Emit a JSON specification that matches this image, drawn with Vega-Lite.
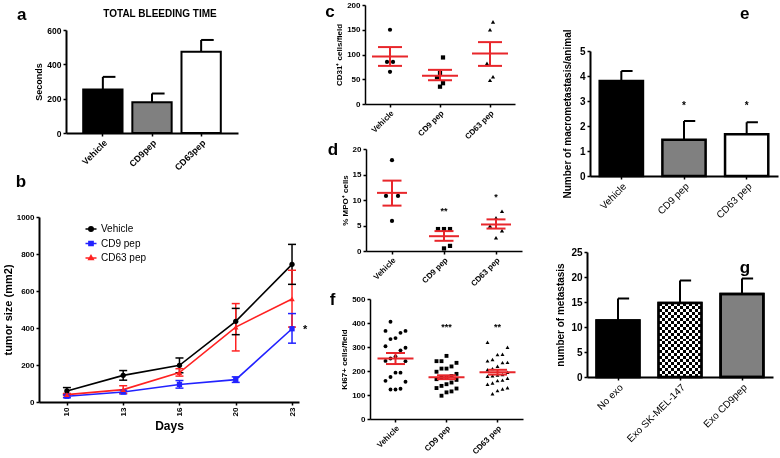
{
  "$schema": "https://vega.github.io/schema/vega-lite/v6.json",
  "width": 780,
  "height": 458,
  "autosize": {"type": "none"},
  "padding": 0,
  "background": "white",
  "config": {
    "view": {"stroke": null},
    "font": "Liberation Sans",
    "axis": {"grid": false, "domainColor": "black", "tickColor": "black", "labelColor": "black", "titleColor": "black", "labelFont": "Liberation Sans", "titleFont": "Liberation Sans", "labelFontWeight": "bold", "titleFontWeight": "bold", "labelFontSize": 8, "titleFontSize": 9, "domainWidth": 1.5, "tickWidth": 1.5, "tickSize": 3, "labelPadding": 2, "titlePadding": 3, "labelOverlap": false},
    "legend": {"labelFont": "Liberation Sans"},
    "text": {"font": "Liberation Sans", "color": "black"},
    "tick": {"opacity": 1}
  },
  "datasets": {
    "bleed": [
      {"grp": "Vehicle", "v": 253, "top": 327},
      {"grp": "CD9pep", "v": 179, "top": 230},
      {"grp": "CD63pep", "v": 473, "top": 542}
    ],
    "tumor": [
      {"day": "10", "grp": "Vehicle", "v": 60, "lo": 42, "hi": 78},
      {"day": "13", "grp": "Vehicle", "v": 144, "lo": 118, "hi": 170},
      {"day": "16", "grp": "Vehicle", "v": 198, "lo": 158, "hi": 238},
      {"day": "20", "grp": "Vehicle", "v": 436, "lo": 364, "hi": 506},
      {"day": "23", "grp": "Vehicle", "v": 744, "lo": 636, "hi": 852},
      {"day": "10", "grp": "CD9 pep", "v": 31, "lo": 23, "hi": 39},
      {"day": "13", "grp": "CD9 pep", "v": 54, "lo": 44, "hi": 64},
      {"day": "16", "grp": "CD9 pep", "v": 95, "lo": 75, "hi": 116},
      {"day": "20", "grp": "CD9 pep", "v": 121, "lo": 106, "hi": 136},
      {"day": "23", "grp": "CD9 pep", "v": 396, "lo": 318, "hi": 478},
      {"day": "10", "grp": "CD63 pep", "v": 40, "lo": 34, "hi": 46},
      {"day": "13", "grp": "CD63 pep", "v": 67, "lo": 48, "hi": 88},
      {"day": "16", "grp": "CD63 pep", "v": 159, "lo": 140, "hi": 180},
      {"day": "20", "grp": "CD63 pep", "v": 405, "lo": 276, "hi": 532},
      {"day": "23", "grp": "CD63 pep", "v": 557, "lo": 405, "hi": 712}
    ],
    "c_pts": [
      {"grp": "Vehicle", "v": 150}, {"grp": "Vehicle", "v": 85}, {"grp": "Vehicle", "v": 85}, {"grp": "Vehicle", "v": 65},
      {"grp": "CD9 pep", "v": 94}, {"grp": "CD9 pep", "v": 63}, {"grp": "CD9 pep", "v": 54}, {"grp": "CD9 pep", "v": 42}, {"grp": "CD9 pep", "v": 35},
      {"grp": "CD63 pep", "v": 166}, {"grp": "CD63 pep", "v": 150}, {"grp": "CD63 pep", "v": 82}, {"grp": "CD63 pep", "v": 55}, {"grp": "CD63 pep", "v": 48}
    ],
    "c_sum": [
      {"grp": "Vehicle", "mean": 96, "lo": 77, "hi": 115},
      {"grp": "CD9 pep", "mean": 57, "lo": 48, "hi": 69},
      {"grp": "CD63 pep", "mean": 102, "lo": 77, "hi": 125}
    ],
    "d_pts": [
      {"grp": "Vehicle", "v": 17.8}, {"grp": "Vehicle", "v": 10.8}, {"grp": "Vehicle", "v": 10.8}, {"grp": "Vehicle", "v": 5.9},
      {"grp": "CD9 pep", "v": 4.3}, {"grp": "CD9 pep", "v": 4.3}, {"grp": "CD9 pep", "v": 4.3}, {"grp": "CD9 pep", "v": 1.0}, {"grp": "CD9 pep", "v": 0.5},
      {"grp": "CD63 pep", "v": 7.8}, {"grp": "CD63 pep", "v": 6.5}, {"grp": "CD63 pep", "v": 4.9}, {"grp": "CD63 pep", "v": 4.0}, {"grp": "CD63 pep", "v": 2.6}
    ],
    "d_sum": [
      {"grp": "Vehicle", "mean": 11.4, "lo": 8.9, "hi": 13.8},
      {"grp": "CD9 pep", "mean": 2.9, "lo": 2.0, "hi": 3.9},
      {"grp": "CD63 pep", "mean": 5.2, "lo": 4.4, "hi": 6.2}
    ],
    "d_stars": [
      {"grp": "CD9 pep", "y": 7.8, "t": "**"},
      {"grp": "CD63 pep", "y": 10.5, "t": "*"}
    ],
    "f_pts": [
      {"grp": "Vehicle", "v": 405}, {"grp": "Vehicle", "v": 367}, {"grp": "Vehicle", "v": 367}, {"grp": "Vehicle", "v": 359}, {"grp": "Vehicle", "v": 337}, {"grp": "Vehicle", "v": 333}, {"grp": "Vehicle", "v": 303}, {"grp": "Vehicle", "v": 297}, {"grp": "Vehicle", "v": 286}, {"grp": "Vehicle", "v": 260}, {"grp": "Vehicle", "v": 252}, {"grp": "Vehicle", "v": 242}, {"grp": "Vehicle", "v": 241}, {"grp": "Vehicle", "v": 193}, {"grp": "Vehicle", "v": 193}, {"grp": "Vehicle", "v": 175}, {"grp": "Vehicle", "v": 159}, {"grp": "Vehicle", "v": 155}, {"grp": "Vehicle", "v": 126}, {"grp": "Vehicle", "v": 123}, {"grp": "Vehicle", "v": 123},
      {"grp": "CD9 pep", "v": 263}, {"grp": "CD9 pep", "v": 241}, {"grp": "CD9 pep", "v": 241}, {"grp": "CD9 pep", "v": 234}, {"grp": "CD9 pep", "v": 219}, {"grp": "CD9 pep", "v": 210}, {"grp": "CD9 pep", "v": 210}, {"grp": "CD9 pep", "v": 197}, {"grp": "CD9 pep", "v": 188}, {"grp": "CD9 pep", "v": 179}, {"grp": "CD9 pep", "v": 174}, {"grp": "CD9 pep", "v": 174}, {"grp": "CD9 pep", "v": 166}, {"grp": "CD9 pep", "v": 163}, {"grp": "CD9 pep", "v": 152}, {"grp": "CD9 pep", "v": 145}, {"grp": "CD9 pep", "v": 138}, {"grp": "CD9 pep", "v": 129}, {"grp": "CD9 pep", "v": 127}, {"grp": "CD9 pep", "v": 115}, {"grp": "CD9 pep", "v": 111}, {"grp": "CD9 pep", "v": 97},
      {"grp": "CD63 pep", "v": 320}, {"grp": "CD63 pep", "v": 299}, {"grp": "CD63 pep", "v": 270}, {"grp": "CD63 pep", "v": 268}, {"grp": "CD63 pep", "v": 248}, {"grp": "CD63 pep", "v": 242}, {"grp": "CD63 pep", "v": 236}, {"grp": "CD63 pep", "v": 235}, {"grp": "CD63 pep", "v": 220}, {"grp": "CD63 pep", "v": 210}, {"grp": "CD63 pep", "v": 205}, {"grp": "CD63 pep", "v": 195}, {"grp": "CD63 pep", "v": 185}, {"grp": "CD63 pep", "v": 183}, {"grp": "CD63 pep", "v": 180}, {"grp": "CD63 pep", "v": 178}, {"grp": "CD63 pep", "v": 170}, {"grp": "CD63 pep", "v": 162}, {"grp": "CD63 pep", "v": 160}, {"grp": "CD63 pep", "v": 150}, {"grp": "CD63 pep", "v": 145}, {"grp": "CD63 pep", "v": 130}, {"grp": "CD63 pep", "v": 125}, {"grp": "CD63 pep", "v": 118}, {"grp": "CD63 pep", "v": 105}
    ],
    "f_sum": [
      {"grp": "Vehicle", "mean": 252, "lo": 229, "hi": 275},
      {"grp": "CD9 pep", "mean": 174, "lo": 166, "hi": 182},
      {"grp": "CD63 pep", "mean": 195, "lo": 185, "hi": 205}
    ],
    "f_stars": [
      {"grp": "CD9 pep", "y": 385, "t": "***"},
      {"grp": "CD63 pep", "y": 385, "t": "**"}
    ],
    "macro": [
      {"grp": "Vehicle", "v": 3.8, "top": 4.2},
      {"grp": "CD9 pep", "v": 1.45, "top": 2.2},
      {"grp": "CD63 pep", "v": 1.67, "top": 2.15}
    ],
    "e_stars": [
      {"grp": "CD9 pep", "y": 2.8, "t": "*"},
      {"grp": "CD63 pep", "y": 2.8, "t": "*"}
    ],
    "meta": [
      {"grp": "No exo", "v": 11.3, "top": 15.7},
      {"grp": "Exo SK-MEL-147", "v": 14.8, "top": 19.3},
      {"grp": "Exo CD9pep", "v": 16.6, "top": 19.7}
    ],
    "b_star": [
      {"day": "23", "y": 400, "t": "*"}
    ]
  },
  "resolve": {"scale": {"x": "independent", "y": "independent", "color": "independent", "shape": "independent", "stroke": "independent", "xOffset": "independent"}},
  "layer": [
    {
      "data": {"name": "bleed"},
      "mark": {"type": "bar", "stroke": "black", "strokeWidth": 2},
      "encoding": {
        "x": {"field": "grp", "type": "nominal", "scale": {"type": "band", "domain": ["Vehicle", "CD9pep", "CD63pep"], "range": [66, 238], "paddingInner": 0.2, "paddingOuter": 0.35}, "axis": {"orient": "bottom", "offset": -325, "title": null, "labelAngle": -45, "labelFontSize": 9, "domainWidth": 2}},
        "y": {"field": "v", "type": "quantitative", "scale": {"domain": [0, 600], "range": [133, 30], "nice": false}, "axis": {"orient": "left", "offset": -66, "values": [0, 200, 400, 600], "title": "Seconds", "domainWidth": 2, "labelFontSize": 8.5}},
        "color": {"field": "grp", "type": "nominal", "scale": {"domain": ["Vehicle", "CD9pep", "CD63pep"], "range": ["black", "#808080", "white"]}, "legend": null}
      }
    },
    {
      "data": {"name": "bleed"},
      "mark": {"type": "rule", "color": "black", "strokeWidth": 2},
      "encoding": {
        "x": {"field": "grp", "type": "nominal", "scale": {"type": "band", "domain": ["Vehicle", "CD9pep", "CD63pep"], "range": [66, 238], "paddingInner": 0.2, "paddingOuter": 0.35}, "axis": null},
        "y": {"field": "v", "type": "quantitative", "scale": {"domain": [0, 600], "range": [133, 30], "nice": false}, "axis": null},
        "y2": {"field": "top"}
      }
    },
    {
      "data": {"name": "bleed"},
      "mark": {"type": "rule", "color": "black", "strokeWidth": 2},
      "encoding": {
        "x": {"field": "grp", "type": "nominal", "bandPosition": 0.5, "scale": {"type": "band", "domain": ["Vehicle", "CD9pep", "CD63pep"], "range": [66, 238], "paddingInner": 0.2, "paddingOuter": 0.35}, "axis": null},
        "x2": {"field": "grp", "bandPosition": 0.82},
        "y": {"field": "top", "type": "quantitative", "scale": {"domain": [0, 600], "range": [133, 30], "nice": false}, "axis": null}
      }
    },
    {
      "data": {"values": [{"t": "a"}]},
      "mark": {"type": "text", "fontSize": 17, "fontWeight": "bold", "dx": -81, "align": "center", "baseline": "middle"},
      "encoding": {
        "x": {"datum": "Vehicle", "type": "nominal", "scale": {"type": "band", "domain": ["Vehicle", "CD9pep", "CD63pep"], "range": [66, 238], "paddingInner": 0.2, "paddingOuter": 0.35}, "axis": null},
        "y": {"datum": 687, "type": "quantitative", "scale": {"domain": [0, 600], "range": [133, 30], "nice": false}, "axis": null},
        "text": {"field": "t"}
      }
    },
    {
      "data": {"values": [{"t": "TOTAL BLEEDING TIME"}]},
      "mark": {"type": "text", "fontSize": 10, "fontWeight": "bold", "dx": 8, "align": "center", "baseline": "middle"},
      "encoding": {
        "x": {"datum": "CD9pep", "type": "nominal", "scale": {"type": "band", "domain": ["Vehicle", "CD9pep", "CD63pep"], "range": [66, 238], "paddingInner": 0.2, "paddingOuter": 0.35}, "axis": null},
        "y": {"datum": 693, "type": "quantitative", "scale": {"domain": [0, 600], "range": [133, 30], "nice": false}, "axis": null},
        "text": {"field": "t"}
      }
    },
    {
      "data": {"name": "tumor"},
      "mark": {"type": "rule", "strokeWidth": 1.5},
      "encoding": {
        "x": {"field": "day", "type": "ordinal", "scale": {"type": "point", "domain": ["10", "13", "16", "20", "23"], "range": [39, 299], "padding": 0.31, "align": 0.8}, "axis": {"orient": "bottom", "offset": -56, "title": "Days", "titleFontSize": 12, "titlePadding": 5, "labelAngle": -90, "labelFontSize": 8, "domainWidth": 2}},
        "y": {"field": "lo", "type": "quantitative", "scale": {"domain": [0, 1000], "range": [402, 217], "nice": false}, "axis": {"orient": "left", "offset": -39, "values": [0, 200, 400, 600, 800, 1000], "format": "d", "title": "tumor size (mm2)", "titleFontSize": 11, "titlePadding": 3, "domainWidth": 2}},
        "y2": {"field": "hi"},
        "color": {"field": "grp", "type": "nominal", "scale": {"domain": ["Vehicle", "CD9 pep", "CD63 pep"], "range": ["black", "#2222ff", "#ff2222"]}, "legend": null}
      }
    },
    {
      "data": {"name": "tumor"},
      "mark": {"type": "tick", "size": 8, "thickness": 1.5, "opacity": 1},
      "encoding": {
        "x": {"field": "day", "type": "ordinal", "scale": {"type": "point", "domain": ["10", "13", "16", "20", "23"], "range": [39, 299], "padding": 0.31, "align": 0.8}, "axis": null},
        "y": {"field": "lo", "type": "quantitative", "scale": {"domain": [0, 1000], "range": [402, 217], "nice": false}, "axis": null},
        "color": {"field": "grp", "type": "nominal", "scale": {"domain": ["Vehicle", "CD9 pep", "CD63 pep"], "range": ["black", "#2222ff", "#ff2222"]}, "legend": null}
      }
    },
    {
      "data": {"name": "tumor"},
      "mark": {"type": "tick", "size": 8, "thickness": 1.5, "opacity": 1},
      "encoding": {
        "x": {"field": "day", "type": "ordinal", "scale": {"type": "point", "domain": ["10", "13", "16", "20", "23"], "range": [39, 299], "padding": 0.31, "align": 0.8}, "axis": null},
        "y": {"field": "hi", "type": "quantitative", "scale": {"domain": [0, 1000], "range": [402, 217], "nice": false}, "axis": null},
        "color": {"field": "grp", "type": "nominal", "scale": {"domain": ["Vehicle", "CD9 pep", "CD63 pep"], "range": ["black", "#2222ff", "#ff2222"]}, "legend": null}
      }
    },
    {
      "data": {"name": "tumor"},
      "mark": {"type": "line", "strokeWidth": 1.6},
      "encoding": {
        "x": {"field": "day", "type": "ordinal", "scale": {"type": "point", "domain": ["10", "13", "16", "20", "23"], "range": [39, 299], "padding": 0.31, "align": 0.8}, "axis": null},
        "y": {"field": "v", "type": "quantitative", "scale": {"domain": [0, 1000], "range": [402, 217], "nice": false}, "axis": null},
        "color": {"field": "grp", "type": "nominal", "scale": {"domain": ["Vehicle", "CD9 pep", "CD63 pep"], "range": ["black", "#2222ff", "#ff2222"]}, "legend": null}
      }
    },
    {
      "data": {"name": "tumor"},
      "transform": [{"filter": "datum.grp === 'Vehicle'"}],
      "mark": {"type": "point", "shape": "circle", "filled": true, "size": 28, "opacity": 1, "color": "black"},
      "encoding": {
        "x": {"field": "day", "type": "ordinal", "scale": {"type": "point", "domain": ["10", "13", "16", "20", "23"], "range": [39, 299], "padding": 0.31, "align": 0.8}, "axis": null},
        "y": {"field": "v", "type": "quantitative", "scale": {"domain": [0, 1000], "range": [402, 217], "nice": false}, "axis": null}
      }
    },
    {
      "data": {"name": "tumor"},
      "transform": [{"filter": "datum.grp === 'CD9 pep'"}],
      "mark": {"type": "point", "shape": "square", "filled": true, "size": 28, "opacity": 1, "color": "#2222ff"},
      "encoding": {
        "x": {"field": "day", "type": "ordinal", "scale": {"type": "point", "domain": ["10", "13", "16", "20", "23"], "range": [39, 299], "padding": 0.31, "align": 0.8}, "axis": null},
        "y": {"field": "v", "type": "quantitative", "scale": {"domain": [0, 1000], "range": [402, 217], "nice": false}, "axis": null}
      }
    },
    {
      "data": {"name": "tumor"},
      "transform": [{"filter": "datum.grp === 'CD63 pep'"}],
      "mark": {"type": "point", "shape": "triangle-up", "filled": true, "size": 30, "opacity": 1, "color": "#ff2222"},
      "encoding": {
        "x": {"field": "day", "type": "ordinal", "scale": {"type": "point", "domain": ["10", "13", "16", "20", "23"], "range": [39, 299], "padding": 0.31, "align": 0.8}, "axis": null},
        "y": {"field": "v", "type": "quantitative", "scale": {"domain": [0, 1000], "range": [402, 217], "nice": false}, "axis": null}
      }
    },
    {
      "data": {"name": "tumor"},
      "mark": {"type": "point", "filled": true, "opacity": 0, "size": 100, "strokeWidth": 1.5},
      "encoding": {
        "x": {"field": "day", "type": "ordinal", "scale": {"type": "point", "domain": ["10", "13", "16", "20", "23"], "range": [39, 299], "padding": 0.31, "align": 0.8}, "axis": null},
        "y": {"field": "v", "type": "quantitative", "scale": {"domain": [0, 1000], "range": [402, 217], "nice": false}, "axis": null},
        "color": {"field": "grp", "type": "nominal", "scale": {"domain": ["Vehicle", "CD9 pep", "CD63 pep"], "range": ["black", "#2222ff", "#ff2222"]}, "legend": {"orient": "none", "legendX": 85, "legendY": 223, "title": null, "labelFontSize": 10, "labelFontWeight": "normal", "symbolSize": 100, "rowPadding": 2.5, "padding": 0, "symbolStrokeWidth": 1.5, "symbolOpacity": 1}},
        "stroke": {"field": "grp", "type": "nominal", "scale": {"domain": ["Vehicle", "CD9 pep", "CD63 pep"], "range": ["black", "#2222ff", "#ff2222"]}, "legend": {"orient": "none", "legendX": 85, "legendY": 223, "title": null, "labelFontSize": 10, "labelFontWeight": "normal", "symbolSize": 100, "rowPadding": 2.5, "padding": 0, "symbolStrokeWidth": 1.5, "symbolOpacity": 1}},
        "shape": {"field": "grp", "type": "nominal", "scale": {"domain": ["Vehicle", "CD9 pep", "CD63 pep"], "range": ["M-1.1,0H1.1M0,-0.45A0.45,0.45,0,1,1,0,0.45A0.45,0.45,0,1,1,0,-0.45Z", "M-1.1,0H1.1M-0.42,-0.42H0.42V0.42H-0.42Z", "M-1.1,0H1.1M0,-0.5L0.45,0.32H-0.45Z"]}, "legend": {"orient": "none", "legendX": 85, "legendY": 223, "title": null, "labelFontSize": 10, "labelFontWeight": "normal", "symbolSize": 100, "rowPadding": 2.5, "padding": 0, "symbolStrokeWidth": 1.5, "symbolOpacity": 1}}
      }
    },
    {
      "data": {"name": "b_star"},
      "mark": {"type": "text", "fontSize": 11, "fontWeight": "bold", "dx": 13, "dy": 2, "align": "center", "baseline": "middle"},
      "encoding": {
        "x": {"field": "day", "type": "ordinal", "scale": {"type": "point", "domain": ["10", "13", "16", "20", "23"], "range": [39, 299], "padding": 0.31, "align": 0.8}, "axis": null},
        "y": {"field": "y", "type": "quantitative", "scale": {"domain": [0, 1000], "range": [402, 217], "nice": false}, "axis": null},
        "text": {"field": "t"}
      }
    },
    {
      "data": {"values": [{"t": "b"}]},
      "mark": {"type": "text", "fontSize": 17, "fontWeight": "bold", "dx": -46, "align": "center", "baseline": "middle"},
      "encoding": {
        "x": {"datum": "10", "type": "ordinal", "scale": {"type": "point", "domain": ["10", "13", "16", "20", "23"], "range": [39, 299], "padding": 0.31, "align": 0.8}, "axis": null},
        "y": {"datum": 1189, "type": "quantitative", "scale": {"domain": [0, 1000], "range": [402, 217], "nice": false}, "axis": null},
        "text": {"field": "t"}
      }
    },
    {
      "data": {"name": "c_pts"},
      "transform": [{"window": [{"op": "row_number", "as": "rn"}], "groupby": ["grp"], "sort": [{"field": "v", "order": "ascending"}]}, {"calculate": "(datum.rn % 3) - 1", "as": "off"}],
      "mark": {"type": "point", "filled": true, "color": "black", "size": 18, "opacity": 1},
      "encoding": {
        "x": {"field": "grp", "type": "nominal", "scale": {"type": "band", "domain": ["Vehicle", "CD9 pep", "CD63 pep"], "range": [365, 515], "paddingInner": 0, "paddingOuter": 0}, "axis": {"orient": "bottom", "offset": -354, "title": null, "labelAngle": -45}},
        "xOffset": {"field": "off", "type": "quantitative", "scale": {"domain": [-1, 1], "range": [22, 28]}},
        "y": {"field": "v", "type": "quantitative", "scale": {"domain": [0, 200], "range": [104, 5], "nice": false}, "axis": {"orient": "left", "offset": -365, "values": [0, 50, 100, 150, 200], "title": "CD31⁺ cells/field", "titleFontSize": 8}},
        "shape": {"field": "grp", "type": "nominal", "scale": {"domain": ["Vehicle", "CD9 pep", "CD63 pep"], "range": ["circle", "square", "triangle-up"]}, "legend": null}
      }
    },
    {
      "data": {"name": "c_sum"},
      "mark": {"type": "rule", "color": "#e8262b", "strokeWidth": 2},
      "encoding": {
        "x": {"field": "grp", "type": "nominal", "scale": {"type": "band", "domain": ["Vehicle", "CD9 pep", "CD63 pep"], "range": [365, 515], "paddingInner": 0, "paddingOuter": 0}, "axis": null},
        "y": {"field": "lo", "type": "quantitative", "scale": {"domain": [0, 200], "range": [104, 5], "nice": false}, "axis": null},
        "y2": {"field": "hi"}
      }
    },
    {
      "data": {"name": "c_sum"},
      "mark": {"type": "tick", "color": "#e8262b", "size": 36, "thickness": 2, "opacity": 1},
      "encoding": {
        "x": {"field": "grp", "type": "nominal", "scale": {"type": "band", "domain": ["Vehicle", "CD9 pep", "CD63 pep"], "range": [365, 515], "paddingInner": 0, "paddingOuter": 0}, "axis": null},
        "y": {"field": "mean", "type": "quantitative", "scale": {"domain": [0, 200], "range": [104, 5], "nice": false}, "axis": null}
      }
    },
    {
      "data": {"name": "c_sum"},
      "mark": {"type": "tick", "color": "#e8262b", "size": 24, "thickness": 2, "opacity": 1},
      "encoding": {
        "x": {"field": "grp", "type": "nominal", "scale": {"type": "band", "domain": ["Vehicle", "CD9 pep", "CD63 pep"], "range": [365, 515], "paddingInner": 0, "paddingOuter": 0}, "axis": null},
        "y": {"field": "lo", "type": "quantitative", "scale": {"domain": [0, 200], "range": [104, 5], "nice": false}, "axis": null}
      }
    },
    {
      "data": {"name": "c_sum"},
      "mark": {"type": "tick", "color": "#e8262b", "size": 24, "thickness": 2, "opacity": 1},
      "encoding": {
        "x": {"field": "grp", "type": "nominal", "scale": {"type": "band", "domain": ["Vehicle", "CD9 pep", "CD63 pep"], "range": [365, 515], "paddingInner": 0, "paddingOuter": 0}, "axis": null},
        "y": {"field": "hi", "type": "quantitative", "scale": {"domain": [0, 200], "range": [104, 5], "nice": false}, "axis": null}
      }
    },
    {
      "data": {"values": [{"t": "c"}]},
      "mark": {"type": "text", "fontSize": 17, "fontWeight": "bold", "dx": -60, "align": "center", "baseline": "middle"},
      "encoding": {
        "x": {"datum": "Vehicle", "type": "nominal", "scale": {"type": "band", "domain": ["Vehicle", "CD9 pep", "CD63 pep"], "range": [365, 515], "paddingInner": 0, "paddingOuter": 0}, "axis": null},
        "y": {"datum": 186, "type": "quantitative", "scale": {"domain": [0, 200], "range": [104, 5], "nice": false}, "axis": null},
        "text": {"field": "t"}
      }
    },
    {
      "data": {"name": "d_pts"},
      "transform": [{"window": [{"op": "row_number", "as": "rn"}], "groupby": ["grp"], "sort": [{"field": "v", "order": "ascending"}]}, {"calculate": "(datum.rn % 3) - 1", "as": "off"}],
      "mark": {"type": "point", "filled": true, "color": "black", "size": 18, "opacity": 1},
      "encoding": {
        "x": {"field": "grp", "type": "nominal", "scale": {"type": "band", "domain": ["Vehicle", "CD9 pep", "CD63 pep"], "range": [366, 522], "paddingInner": 0, "paddingOuter": 0}, "axis": {"orient": "bottom", "offset": -207, "title": null, "labelAngle": -45}},
        "xOffset": {"field": "off", "type": "quantitative", "scale": {"domain": [-1, 1], "range": [20, 32]}},
        "y": {"field": "v", "type": "quantitative", "scale": {"domain": [0, 20], "range": [251, 149], "nice": false}, "axis": {"orient": "left", "offset": -366, "values": [0, 5, 10, 15, 20], "title": "% MPO⁺ cells", "titleFontSize": 8}},
        "shape": {"field": "grp", "type": "nominal", "scale": {"domain": ["Vehicle", "CD9 pep", "CD63 pep"], "range": ["circle", "square", "triangle-up"]}, "legend": null}
      }
    },
    {
      "data": {"name": "d_sum"},
      "mark": {"type": "rule", "color": "#e8262b", "strokeWidth": 2},
      "encoding": {
        "x": {"field": "grp", "type": "nominal", "scale": {"type": "band", "domain": ["Vehicle", "CD9 pep", "CD63 pep"], "range": [366, 522], "paddingInner": 0, "paddingOuter": 0}, "axis": null},
        "y": {"field": "lo", "type": "quantitative", "scale": {"domain": [0, 20], "range": [251, 149], "nice": false}, "axis": null},
        "y2": {"field": "hi"}
      }
    },
    {
      "data": {"name": "d_sum"},
      "mark": {"type": "tick", "color": "#e8262b", "size": 30, "thickness": 2, "opacity": 1},
      "encoding": {
        "x": {"field": "grp", "type": "nominal", "scale": {"type": "band", "domain": ["Vehicle", "CD9 pep", "CD63 pep"], "range": [366, 522], "paddingInner": 0, "paddingOuter": 0}, "axis": null},
        "y": {"field": "mean", "type": "quantitative", "scale": {"domain": [0, 20], "range": [251, 149], "nice": false}, "axis": null}
      }
    },
    {
      "data": {"name": "d_sum"},
      "mark": {"type": "tick", "color": "#e8262b", "size": 19, "thickness": 2, "opacity": 1},
      "encoding": {
        "x": {"field": "grp", "type": "nominal", "scale": {"type": "band", "domain": ["Vehicle", "CD9 pep", "CD63 pep"], "range": [366, 522], "paddingInner": 0, "paddingOuter": 0}, "axis": null},
        "y": {"field": "lo", "type": "quantitative", "scale": {"domain": [0, 20], "range": [251, 149], "nice": false}, "axis": null}
      }
    },
    {
      "data": {"name": "d_sum"},
      "mark": {"type": "tick", "color": "#e8262b", "size": 19, "thickness": 2, "opacity": 1},
      "encoding": {
        "x": {"field": "grp", "type": "nominal", "scale": {"type": "band", "domain": ["Vehicle", "CD9 pep", "CD63 pep"], "range": [366, 522], "paddingInner": 0, "paddingOuter": 0}, "axis": null},
        "y": {"field": "hi", "type": "quantitative", "scale": {"domain": [0, 20], "range": [251, 149], "nice": false}, "axis": null}
      }
    },
    {
      "data": {"name": "d_stars"},
      "mark": {"type": "text", "fontSize": 9, "fontWeight": "bold", "align": "center", "baseline": "middle"},
      "encoding": {
        "x": {"field": "grp", "type": "nominal", "scale": {"type": "band", "domain": ["Vehicle", "CD9 pep", "CD63 pep"], "range": [366, 522], "paddingInner": 0, "paddingOuter": 0}, "axis": null},
        "y": {"field": "y", "type": "quantitative", "scale": {"domain": [0, 20], "range": [251, 149], "nice": false}, "axis": null},
        "text": {"field": "t"}
      }
    },
    {
      "data": {"values": [{"t": "d"}]},
      "mark": {"type": "text", "fontSize": 17, "fontWeight": "bold", "dx": -59, "align": "center", "baseline": "middle"},
      "encoding": {
        "x": {"datum": "Vehicle", "type": "nominal", "scale": {"type": "band", "domain": ["Vehicle", "CD9 pep", "CD63 pep"], "range": [366, 522], "paddingInner": 0, "paddingOuter": 0}, "axis": null},
        "y": {"datum": 19.8, "type": "quantitative", "scale": {"domain": [0, 20], "range": [251, 149], "nice": false}, "axis": null},
        "text": {"field": "t"}
      }
    },
    {
      "data": {"name": "f_pts"},
      "transform": [{"window": [{"op": "row_number", "as": "rn"}], "groupby": ["grp"], "sort": [{"field": "v", "order": "ascending"}]}, {"calculate": "(datum.rn % 5) - 2", "as": "off"}],
      "mark": {"type": "point", "filled": true, "color": "black", "size": 15, "opacity": 1},
      "encoding": {
        "x": {"field": "grp", "type": "nominal", "scale": {"type": "band", "domain": ["Vehicle", "CD9 pep", "CD63 pep"], "range": [370, 523], "paddingInner": 0, "paddingOuter": 0}, "axis": {"orient": "bottom", "offset": -39, "title": null, "labelAngle": -45}},
        "xOffset": {"field": "off", "type": "quantitative", "scale": {"domain": [-2, 2], "range": [15.5, 35.5]}},
        "y": {"field": "v", "type": "quantitative", "scale": {"domain": [0, 500], "range": [419, 299], "nice": false}, "axis": {"orient": "left", "offset": -370, "values": [0, 100, 200, 300, 400, 500], "title": "Ki67+ cells/field", "titleFontSize": 8}},
        "shape": {"field": "grp", "type": "nominal", "scale": {"domain": ["Vehicle", "CD9 pep", "CD63 pep"], "range": ["circle", "square", "triangle-up"]}, "legend": null}
      }
    },
    {
      "data": {"name": "f_sum"},
      "mark": {"type": "rule", "color": "#e8262b", "strokeWidth": 2},
      "encoding": {
        "x": {"field": "grp", "type": "nominal", "scale": {"type": "band", "domain": ["Vehicle", "CD9 pep", "CD63 pep"], "range": [370, 523], "paddingInner": 0, "paddingOuter": 0}, "axis": null},
        "y": {"field": "lo", "type": "quantitative", "scale": {"domain": [0, 500], "range": [419, 299], "nice": false}, "axis": null},
        "y2": {"field": "hi"}
      }
    },
    {
      "data": {"name": "f_sum"},
      "mark": {"type": "tick", "color": "#e8262b", "size": 36, "thickness": 2, "opacity": 1},
      "encoding": {
        "x": {"field": "grp", "type": "nominal", "scale": {"type": "band", "domain": ["Vehicle", "CD9 pep", "CD63 pep"], "range": [370, 523], "paddingInner": 0, "paddingOuter": 0}, "axis": null},
        "y": {"field": "mean", "type": "quantitative", "scale": {"domain": [0, 500], "range": [419, 299], "nice": false}, "axis": null}
      }
    },
    {
      "data": {"name": "f_sum"},
      "mark": {"type": "tick", "color": "#e8262b", "size": 19, "thickness": 2, "opacity": 1},
      "encoding": {
        "x": {"field": "grp", "type": "nominal", "scale": {"type": "band", "domain": ["Vehicle", "CD9 pep", "CD63 pep"], "range": [370, 523], "paddingInner": 0, "paddingOuter": 0}, "axis": null},
        "y": {"field": "lo", "type": "quantitative", "scale": {"domain": [0, 500], "range": [419, 299], "nice": false}, "axis": null}
      }
    },
    {
      "data": {"name": "f_sum"},
      "mark": {"type": "tick", "color": "#e8262b", "size": 19, "thickness": 2, "opacity": 1},
      "encoding": {
        "x": {"field": "grp", "type": "nominal", "scale": {"type": "band", "domain": ["Vehicle", "CD9 pep", "CD63 pep"], "range": [370, 523], "paddingInner": 0, "paddingOuter": 0}, "axis": null},
        "y": {"field": "hi", "type": "quantitative", "scale": {"domain": [0, 500], "range": [419, 299], "nice": false}, "axis": null}
      }
    },
    {
      "data": {"name": "f_stars"},
      "mark": {"type": "text", "fontSize": 9, "fontWeight": "bold", "align": "center", "baseline": "middle"},
      "encoding": {
        "x": {"field": "grp", "type": "nominal", "scale": {"type": "band", "domain": ["Vehicle", "CD9 pep", "CD63 pep"], "range": [370, 523], "paddingInner": 0, "paddingOuter": 0}, "axis": null},
        "y": {"field": "y", "type": "quantitative", "scale": {"domain": [0, 500], "range": [419, 299], "nice": false}, "axis": null},
        "text": {"field": "t"}
      }
    },
    {
      "data": {"values": [{"t": "f"}]},
      "mark": {"type": "text", "fontSize": 17, "fontWeight": "bold", "dx": -63, "align": "center", "baseline": "middle"},
      "encoding": {
        "x": {"datum": "Vehicle", "type": "nominal", "scale": {"type": "band", "domain": ["Vehicle", "CD9 pep", "CD63 pep"], "range": [370, 523], "paddingInner": 0, "paddingOuter": 0}, "axis": null},
        "y": {"datum": 496, "type": "quantitative", "scale": {"domain": [0, 500], "range": [419, 299], "nice": false}, "axis": null},
        "text": {"field": "t"}
      }
    },
    {
      "data": {"name": "macro"},
      "mark": {"type": "bar", "stroke": "black", "strokeWidth": 2.5},
      "encoding": {
        "x": {"field": "grp", "type": "nominal", "scale": {"type": "band", "domain": ["Vehicle", "CD9 pep", "CD63 pep"], "range": [590, 778], "paddingInner": 0.31, "paddingOuter": 0.155}, "axis": {"orient": "bottom", "offset": -282, "title": null, "labelAngle": -45, "labelFontSize": 10, "labelFontWeight": "normal", "domainWidth": 2}},
        "y": {"field": "v", "type": "quantitative", "scale": {"domain": [0, 5], "range": [176, 51], "nice": false}, "axis": {"orient": "left", "offset": -590, "values": [0, 1, 2, 3, 4, 5], "title": "Number of macrometastasis/animal", "titleFontSize": 10, "labelFontSize": 10, "titlePadding": 7, "domainWidth": 2}},
        "color": {"field": "grp", "type": "nominal", "scale": {"domain": ["Vehicle", "CD9 pep", "CD63 pep"], "range": ["black", "#808080", "white"]}, "legend": null}
      }
    },
    {
      "data": {"name": "macro"},
      "mark": {"type": "rule", "color": "black", "strokeWidth": 2},
      "encoding": {
        "x": {"field": "grp", "type": "nominal", "scale": {"type": "band", "domain": ["Vehicle", "CD9 pep", "CD63 pep"], "range": [590, 778], "paddingInner": 0.31, "paddingOuter": 0.155}, "axis": null},
        "y": {"field": "v", "type": "quantitative", "scale": {"domain": [0, 5], "range": [176, 51], "nice": false}, "axis": null},
        "y2": {"field": "top"}
      }
    },
    {
      "data": {"name": "macro"},
      "mark": {"type": "rule", "color": "black", "strokeWidth": 2},
      "encoding": {
        "x": {"field": "grp", "type": "nominal", "bandPosition": 0.5, "scale": {"type": "band", "domain": ["Vehicle", "CD9 pep", "CD63 pep"], "range": [590, 778], "paddingInner": 0.31, "paddingOuter": 0.155}, "axis": null},
        "x2": {"field": "grp", "bandPosition": 0.76},
        "y": {"field": "top", "type": "quantitative", "scale": {"domain": [0, 5], "range": [176, 51], "nice": false}, "axis": null}
      }
    },
    {
      "data": {"name": "e_stars"},
      "mark": {"type": "text", "fontSize": 10, "fontWeight": "bold", "align": "center", "baseline": "middle"},
      "encoding": {
        "x": {"field": "grp", "type": "nominal", "scale": {"type": "band", "domain": ["Vehicle", "CD9 pep", "CD63 pep"], "range": [590, 778], "paddingInner": 0.31, "paddingOuter": 0.155}, "axis": null},
        "y": {"field": "y", "type": "quantitative", "scale": {"domain": [0, 5], "range": [176, 51], "nice": false}, "axis": null},
        "text": {"field": "t"}
      }
    },
    {
      "data": {"values": [{"t": "e"}]},
      "mark": {"type": "text", "fontSize": 17, "fontWeight": "bold", "dx": -2, "align": "center", "baseline": "middle"},
      "encoding": {
        "x": {"datum": "CD63 pep", "type": "nominal", "scale": {"type": "band", "domain": ["Vehicle", "CD9 pep", "CD63 pep"], "range": [590, 778], "paddingInner": 0.31, "paddingOuter": 0.155}, "axis": null},
        "y": {"datum": 6.48, "type": "quantitative", "scale": {"domain": [0, 5], "range": [176, 51], "nice": false}, "axis": null},
        "text": {"field": "t"}
      }
    },
    {
      "data": {"name": "meta"},
      "mark": {"type": "bar", "stroke": "black", "strokeWidth": 2.5},
      "encoding": {
        "x": {"field": "grp", "type": "nominal", "scale": {"type": "band", "domain": ["No exo", "Exo SK-MEL-147", "Exo CD9pep"], "range": [587, 773], "paddingInner": 0.31, "paddingOuter": 0.155}, "axis": {"orient": "bottom", "offset": -81, "title": null, "labelAngle": -45, "labelFontSize": 10, "labelFontWeight": "normal", "domainWidth": 2}},
        "y": {"field": "v", "type": "quantitative", "scale": {"domain": [0, 25], "range": [377, 252], "nice": false}, "axis": {"orient": "left", "offset": -587, "values": [0, 5, 10, 15, 20, 25], "title": "number of metastasis", "titleFontSize": 10, "labelFontSize": 10, "titlePadding": 5, "domainWidth": 2}},
        "color": {"field": "grp", "type": "nominal", "scale": {"domain": ["No exo", "Exo SK-MEL-147", "Exo CD9pep"], "range": ["black", "#777777", "#808080"]}, "legend": null}
      }
    },
    {
      "data": {"name": "meta"},
      "transform": [{"filter": "datum.grp === 'Exo SK-MEL-147'"}],
      "mark": {"type": "bar", "strokeWidth": 0, "fill": {"gradient": "linear", "x1": 0, "y1": 0, "x2": 1, "y2": 0, "stops": [
        {"offset": 0, "color": "black"}, {"offset": 0.0714, "color": "black"}, {"offset": 0.0714, "color": "white"}, {"offset": 0.1429, "color": "white"},
        {"offset": 0.1429, "color": "black"}, {"offset": 0.2143, "color": "black"}, {"offset": 0.2143, "color": "white"}, {"offset": 0.2857, "color": "white"},
        {"offset": 0.2857, "color": "black"}, {"offset": 0.3571, "color": "black"}, {"offset": 0.3571, "color": "white"}, {"offset": 0.4286, "color": "white"},
        {"offset": 0.4286, "color": "black"}, {"offset": 0.5, "color": "black"}, {"offset": 0.5, "color": "white"}, {"offset": 0.5714, "color": "white"},
        {"offset": 0.5714, "color": "black"}, {"offset": 0.6429, "color": "black"}, {"offset": 0.6429, "color": "white"}, {"offset": 0.7143, "color": "white"},
        {"offset": 0.7143, "color": "black"}, {"offset": 0.7857, "color": "black"}, {"offset": 0.7857, "color": "white"}, {"offset": 0.8571, "color": "white"},
        {"offset": 0.8571, "color": "black"}, {"offset": 0.9286, "color": "black"}, {"offset": 0.9286, "color": "white"}, {"offset": 1, "color": "white"}
      ]}},
      "encoding": {
        "x": {"field": "grp", "type": "nominal", "scale": {"type": "band", "domain": ["No exo", "Exo SK-MEL-147", "Exo CD9pep"], "range": [587, 773], "paddingInner": 0.31, "paddingOuter": 0.155}, "axis": null},
        "y": {"field": "v", "type": "quantitative", "scale": {"domain": [0, 25], "range": [377, 252], "nice": false}, "axis": null}
      }
    },
    {
      "data": {"name": "meta"},
      "transform": [{"filter": "datum.grp === 'Exo SK-MEL-147'"}],
      "mark": {"type": "bar", "strokeWidth": 0, "blend": "difference", "fill": {"gradient": "linear", "x1": 0, "y1": 0, "x2": 0, "y2": 1, "stops": [
        {"offset": 0, "color": "black"}, {"offset": 0.04, "color": "black"}, {"offset": 0.04, "color": "white"}, {"offset": 0.08, "color": "white"},
        {"offset": 0.08, "color": "black"}, {"offset": 0.12, "color": "black"}, {"offset": 0.12, "color": "white"}, {"offset": 0.16, "color": "white"},
        {"offset": 0.16, "color": "black"}, {"offset": 0.2, "color": "black"}, {"offset": 0.2, "color": "white"}, {"offset": 0.24, "color": "white"},
        {"offset": 0.24, "color": "black"}, {"offset": 0.28, "color": "black"}, {"offset": 0.28, "color": "white"}, {"offset": 0.32, "color": "white"},
        {"offset": 0.32, "color": "black"}, {"offset": 0.36, "color": "black"}, {"offset": 0.36, "color": "white"}, {"offset": 0.4, "color": "white"},
        {"offset": 0.4, "color": "black"}, {"offset": 0.44, "color": "black"}, {"offset": 0.44, "color": "white"}, {"offset": 0.48, "color": "white"},
        {"offset": 0.48, "color": "black"}, {"offset": 0.52, "color": "black"}, {"offset": 0.52, "color": "white"}, {"offset": 0.56, "color": "white"},
        {"offset": 0.56, "color": "black"}, {"offset": 0.6, "color": "black"}, {"offset": 0.6, "color": "white"}, {"offset": 0.64, "color": "white"},
        {"offset": 0.64, "color": "black"}, {"offset": 0.68, "color": "black"}, {"offset": 0.68, "color": "white"}, {"offset": 0.72, "color": "white"},
        {"offset": 0.72, "color": "black"}, {"offset": 0.76, "color": "black"}, {"offset": 0.76, "color": "white"}, {"offset": 0.8, "color": "white"},
        {"offset": 0.8, "color": "black"}, {"offset": 0.84, "color": "black"}, {"offset": 0.84, "color": "white"}, {"offset": 0.88, "color": "white"},
        {"offset": 0.88, "color": "black"}, {"offset": 0.92, "color": "black"}, {"offset": 0.92, "color": "white"}, {"offset": 0.96, "color": "white"},
        {"offset": 0.96, "color": "black"}, {"offset": 1, "color": "black"}
      ]}},
      "encoding": {
        "x": {"field": "grp", "type": "nominal", "scale": {"type": "band", "domain": ["No exo", "Exo SK-MEL-147", "Exo CD9pep"], "range": [587, 773], "paddingInner": 0.31, "paddingOuter": 0.155}, "axis": null},
        "y": {"field": "v", "type": "quantitative", "scale": {"domain": [0, 25], "range": [377, 252], "nice": false}, "axis": null}
      }
    },
    {
      "data": {"name": "meta"},
      "mark": {"type": "bar", "fillOpacity": 0, "stroke": "black", "strokeWidth": 2.5},
      "encoding": {
        "x": {"field": "grp", "type": "nominal", "scale": {"type": "band", "domain": ["No exo", "Exo SK-MEL-147", "Exo CD9pep"], "range": [587, 773], "paddingInner": 0.31, "paddingOuter": 0.155}, "axis": null},
        "y": {"field": "v", "type": "quantitative", "scale": {"domain": [0, 25], "range": [377, 252], "nice": false}, "axis": null}
      }
    },
    {
      "data": {"name": "meta"},
      "mark": {"type": "rule", "color": "black", "strokeWidth": 2},
      "encoding": {
        "x": {"field": "grp", "type": "nominal", "scale": {"type": "band", "domain": ["No exo", "Exo SK-MEL-147", "Exo CD9pep"], "range": [587, 773], "paddingInner": 0.31, "paddingOuter": 0.155}, "axis": null},
        "y": {"field": "v", "type": "quantitative", "scale": {"domain": [0, 25], "range": [377, 252], "nice": false}, "axis": null},
        "y2": {"field": "top"}
      }
    },
    {
      "data": {"name": "meta"},
      "mark": {"type": "rule", "color": "black", "strokeWidth": 2},
      "encoding": {
        "x": {"field": "grp", "type": "nominal", "bandPosition": 0.5, "scale": {"type": "band", "domain": ["No exo", "Exo SK-MEL-147", "Exo CD9pep"], "range": [587, 773], "paddingInner": 0.31, "paddingOuter": 0.155}, "axis": null},
        "x2": {"field": "grp", "bandPosition": 0.76},
        "y": {"field": "top", "type": "quantitative", "scale": {"domain": [0, 25], "range": [377, 252], "nice": false}, "axis": null}
      }
    },
    {
      "data": {"values": [{"t": "g"}]},
      "mark": {"type": "text", "fontSize": 17, "fontWeight": "bold", "dx": 3, "align": "center", "baseline": "middle"},
      "encoding": {
        "x": {"datum": "Exo CD9pep", "type": "nominal", "scale": {"type": "band", "domain": ["No exo", "Exo SK-MEL-147", "Exo CD9pep"], "range": [587, 773], "paddingInner": 0.31, "paddingOuter": 0.155}, "axis": null},
        "y": {"datum": 21.8, "type": "quantitative", "scale": {"domain": [0, 25], "range": [377, 252], "nice": false}, "axis": null},
        "text": {"field": "t"}
      }
    }
  ]
}
